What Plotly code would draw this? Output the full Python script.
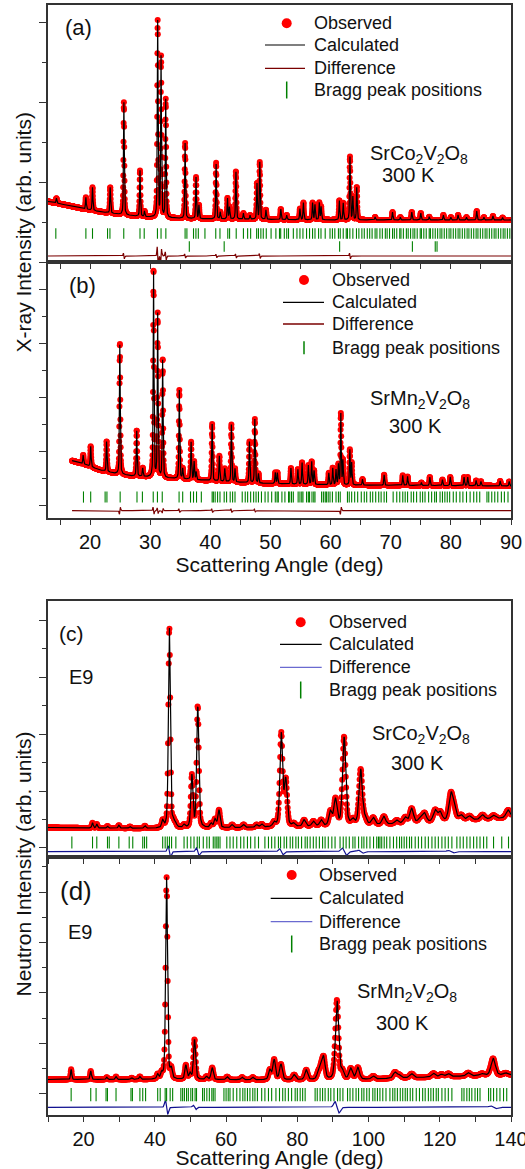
import numpy as np
import plotly.graph_objects as go

# ======================= DATA =======================
# ---- (a) SrCo2V2O8, X-ray ----
a_bg_x = [13, 16, 19, 22, 25, 28, 31, 35, 40, 50, 60, 70, 80, 90]
a_bg_y = [1512, 1425, 1325, 1250, 1188, 1138, 1113, 1088, 1075, 1063, 1050, 1050, 1050, 1050]
a_pk_x = [14.4, 19.3, 20.4, 23.35, 25.62, 28.3, 29.05, 31.24, 31.8, 32.58, 35.8, 37.62, 38.1,
          40.96, 41.65, 42.85, 43.18, 44.25, 45.5, 46.6, 47.75, 48.22, 49.25, 51.72, 52.7,
          54.9, 55.48, 57.0, 57.4, 58.12, 58.42, 61.45, 62.1, 63.22, 63.7, 64.35, 67.4,
          70.3, 71.6, 73.5, 75.0, 76.4, 78.75, 80.0, 81.2, 82.6, 84.3, 85.5, 87.0, 88.6]
a_pk_h = [125, 300, 575, 650, 2812, 1150, 137, 4900, 4000, 2950, 1887, 1037, 337,
          1375, 175, 525, 300, 1200, 150, 100, 900, 1425, 237, 262, 112,
          275, 425, 425, 375, 425, 325, 487, 425, 1575, 575, 825, 75,
          200, 70, 200, 175, 80, 125, 70, 125, 70, 225, 70, 100, 60]
a_mis_x = [25.62, 31.24, 31.8, 32.58, 35.8, 41.0, 44.25, 48.22, 63.22]
a_mis_a = [80, 260, -200, 120, 60, 50, 60, 70, 80]
a_bragg1 = [14.3, 19.3, 20.4, 22.9, 23.3, 25.6, 28.3, 29.0, 31.2, 31.8, 32.6, 35.8, 36.1, 37.2,
            37.6, 38.0, 39.1, 40.9, 41.6, 42.9, 43.2, 44.3, 45.5, 46.2, 46.7, 47.7, 48.0, 48.4,
            48.8, 49.3, 50.1, 50.9, 51.5, 51.7, 52.3, 52.7, 53.0, 53.8, 54.4, 54.9, 55.4, 56.0,
            56.5, 57.0, 57.4, 58.0, 58.4, 59.1, 59.9, 60.3, 60.7, 61.3, 61.6, 62.1, 62.6, 62.8,
            63.2, 63.7, 64.3, 64.7, 65.2, 65.6, 66.1, 66.5, 66.9, 67.4, 67.7, 68.2, 68.6, 69.1,
            69.4, 69.8, 70.3, 70.6, 71.0, 71.5, 71.7, 72.1, 72.6, 72.9, 73.3, 73.7, 74.0, 74.4,
            74.9, 75.1, 75.5, 75.9, 76.4, 76.6, 77.0, 77.4, 77.8, 78.2, 78.5, 78.9, 79.3, 79.7,
            80.0, 80.4, 80.8, 81.2, 81.5, 81.9, 82.3, 82.7, 83.0, 83.4, 83.8, 84.2, 84.5, 84.9,
            85.3, 85.7, 86.0, 86.4, 86.8, 87.2, 87.5, 87.9, 88.3, 88.7, 89.0, 89.4, 89.8]
a_bragg2 = [36.5, 42.3, 61.5, 73.6, 77.4, 77.7]

# ---- (b) SrMn2V2O8, X-ray ----
b_bg_x = [17.0, 19.4, 21.6, 24.0, 27.0, 32.5, 38.0, 43.5, 48.3, 60.0, 90.0]
b_bg_y = [1641, 1482, 1296, 1174, 1074, 1000, 926, 852, 804, 741, 704]
b_pk_x = [18.85, 20.1, 22.75, 24.95, 27.75, 28.75, 30.55, 31.24, 32.07, 34.84, 35.4, 36.8, 37.3,
          37.65, 40.3, 41.5, 42.4, 43.5, 44.1, 46.5, 47.4, 48.0, 50.8, 51.15, 53.4, 54.55, 55.25,
          56.3, 56.85, 57.25, 59.7, 60.35, 60.9, 61.3, 61.7, 62.05, 63.2, 63.5, 65.3, 68.9, 72.0,
          72.8, 75.1, 76.5, 78.6, 79.9, 82.2, 82.8, 84.2, 85.0, 88.2, 89.7]
b_pk_h = [333, 752, 1122, 4863, 1704, 315, 7700, 6050, 4400, 3285, 381, 1389, 667,
          296, 2100, 933, 481, 2122, 493, 1519, 2359, 344, 407, 407, 593, 556, 815,
          704, 852, 519, 444, 630, 556, 741, 2630, 900, 1296, 815, 222, 389, 370,
          333, 111, 315, 222, 322, 322, 322, 196, 167, 185, 167]
b_mis_x = [24.95, 30.55, 31.24, 32.07, 34.84, 40.3, 43.5, 47.4, 61.7]
b_mis_a = [-150, 150, 120, -100, 80, 80, 80, 60, -150]
b_bragg = [18.9, 20.1, 22.5, 22.8, 25.0, 27.8, 28.7, 30.5, 31.2, 32.0, 34.8, 35.4, 36.7, 37.2,
           37.7, 38.5, 40.3, 40.5, 40.8, 41.2, 41.6, 42.3, 42.7, 43.3, 43.7, 44.1, 45.3, 45.8,
           46.2, 46.7, 47.2, 47.6, 48.0, 48.5, 49.1, 49.6, 50.2, 50.8, 51.1, 51.3, 51.9, 52.4,
           53.0, 53.2, 53.5, 53.8, 54.6, 54.9, 55.2, 55.4, 56.0, 56.3, 56.5, 56.9, 57.2, 57.4,
           58.5, 58.8, 59.1, 59.3, 59.6, 59.9, 60.3, 60.9, 61.3, 61.6, 62.8, 63.1, 63.5, 64.0,
           64.5, 65.1, 65.6, 66.0, 66.6, 67.0, 67.5, 68.0, 68.4, 68.9, 69.3, 70.4, 71.0, 71.5,
           72.0, 72.4, 72.8, 73.4, 73.8, 74.3, 74.9, 75.3, 75.7, 76.3, 76.8, 77.3, 77.6, 78.2,
           78.6, 79.0, 79.4, 79.8, 80.4, 80.9, 81.5, 82.0, 82.6, 83.2, 83.8, 84.3, 84.8, 86.0,
           86.3, 86.8, 87.3, 87.8, 88.4, 88.9, 89.5]

# ---- (c) SrCo2V2O8, neutron (E9) ----
c_bg_x = [10, 20, 40, 60, 80, 100, 120, 140]
c_bg_y = [719, 702, 684, 702, 737, 789, 912, 1053]
c_pk_x = [22.5, 23.7, 26.7, 29.9, 33.0, 37.2, 42.2, 44.07, 45.2, 45.8, 48.2, 50.4, 52.05, 55.8,
          56.9, 58.0, 61.7, 64.9, 68.6, 70.0, 73.5, 75.5, 76.75, 79.0, 81.9, 84.5, 86.7, 89.3,
          90.7, 93.15, 95.6, 97.8, 99.0, 101.3, 104.3, 107.9, 110.3, 112.1, 114.5, 115.7,
          118.7, 120.1, 123.1, 124.0, 126.0, 128.3, 132.0, 135.1, 139.2]
c_pk_h = [186, 140, 70, 105, 60, 88, 239, 7070, 175, 120, 100, 1818, 4274, 150,
          291, 618, 105, 105, 90, 105, 140, 3253, 1600, 100, 228, 175, 210, 491,
          912, 3098, 175, 1947, 193, 246, 281, 123, 210, 509, 150, 316,
          397, 323, 888, 421, 175, 140, 158, 120, 281]
c_mis_x = [44.07, 52.05, 75.5, 93.15, 97.8, 123.1]
c_mis_a = [220, 150, 120, 150, 60, 50]
c_bragg = [16.7, 22.5, 23.7, 26.7, 27.2, 29.9, 32.8, 33.8, 36.6, 37.1, 37.7, 42.2, 42.9, 43.5,
           44.1, 44.7, 45.9, 48.2, 49.1, 50.1, 51.0, 51.9, 52.5, 53.6, 54.6, 55.3, 56.4, 56.9,
           57.4, 57.8, 58.3, 60.2, 61.1, 62.0, 63.0, 64.1, 65.0, 66.0, 66.9, 68.1, 69.1, 70.9,
           71.9, 72.8, 73.7, 74.7, 75.3, 76.3, 77.0, 78.0, 78.7, 79.6, 80.3, 81.2, 82.2, 82.8,
           83.6, 84.5, 85.3, 86.2, 87.1, 87.8, 88.7, 89.7, 90.6, 92.0, 92.9, 93.7, 94.6, 95.6,
           96.2, 97.2, 98.1, 98.7, 99.5, 100.4, 101.4, 102.3, 102.8, 103.2, 103.7, 104.4, 105.1,
           106.0, 107.0, 107.9, 108.7, 109.3, 110.0, 110.7, 111.5, 112.1, 113.1, 114.0, 114.9,
           115.9, 116.8, 117.8, 118.7, 119.6, 120.6, 121.5, 122.4, 123.4, 124.8, 125.7, 126.6,
           127.6, 128.5, 129.5, 130.4, 131.3, 132.3, 133.2, 135.1, 137.4, 139.3]

# ---- (d) SrMn2V2O8, neutron (E9) ----
d_bg_x = [10, 40, 70, 90, 100, 110, 120, 130, 140]
d_bg_y = [574, 574, 554, 554, 574, 634, 673, 713, 752]
d_pk_x = [16.5, 22.0, 26.5, 29.1, 33.5, 35.8, 40.8, 41.9, 43.3, 44.6, 48.7, 49.9, 51.15, 54.5,
          56.1, 60.3, 64.5, 67.5, 72.3, 73.5, 75.4, 79.1, 82.5, 85.9, 86.7, 87.4, 91.15, 92.6,
          95.0, 97.0, 101.3, 107.4, 108.6, 112.1, 118.2, 120.5, 122.4, 128.0, 131.8, 135.0, 138.5]
d_pk_h = [404, 337, 87, 111, 60, 111, 178, 198, 8000, 364, 562, 238, 1584, 120,
          475, 119, 100, 100, 384, 792, 614, 198, 388, 250, 400, 800, 3128, 317,
          424, 463, 119, 238, 120, 158, 146, 100, 119, 131, 79, 673, 80]
d_mis_x = [43.3, 51.15, 91.15, 135.0]
d_mis_a = [300, 100, 250, 60]
d_bragg = [16.5, 22.0, 23.5, 26.3, 26.7, 29.1, 33.3, 33.7, 35.8, 36.6, 37.4, 40.8, 41.5, 42.9,
           43.3, 44.3, 45.0, 47.3, 47.8, 48.3, 48.9, 49.4, 50.1, 50.6, 51.3, 51.7, 53.4, 53.9,
           54.6, 55.3, 56.0, 56.4, 56.9, 59.4, 60.0, 60.6, 61.1, 62.0, 63.0, 63.9, 64.7, 65.3,
           66.0, 66.7, 67.5, 68.1, 68.8, 70.0, 70.9, 71.9, 72.8, 74.0, 75.0, 75.9, 76.6, 77.5,
           78.4, 79.4, 80.0, 80.8, 81.5, 82.2, 85.0, 85.6, 86.4, 87.1, 87.8, 88.7, 89.4, 90.3,
           91.3, 92.0, 92.8, 94.1, 94.8, 95.6, 96.5, 97.2, 98.1, 98.7, 99.5, 100.2, 101.2, 101.8,
           102.5, 103.2, 104.0, 104.9, 106.0, 106.8, 107.4, 108.1, 108.9, 109.6, 110.3, 110.9,
           111.7, 112.4, 113.4, 114.3, 115.2, 115.9, 116.8, 117.5, 118.2, 119.0, 119.6, 120.6,
           121.5, 122.4, 123.4, 126.2, 126.8, 127.6, 128.3, 129.0, 129.9, 130.6, 131.3, 133.7,
           134.3, 135.1, 136.0, 136.9, 137.9, 138.8]

legend_labels = ["Observed", "Calculated", "Difference", "Bragg peak positions"]

# ======================= profile model =======================
def pv(x, p, w, eta):
    dx = (x - p) / (w / 2.0)
    return eta / (1.0 + dx ** 2) + (1.0 - eta) * np.exp(-np.log(2.0) * dx ** 2)


def calc_profile(x, bgx, bgy, pkx, pkh, wfun, eta):
    y = np.interp(x, bgx, bgy).astype(float)
    for p, h in zip(pkx, pkh):
        y = y + h * pv(x, p, wfun(p), eta)
    return y


def misfit(x, mx, ma, wfun, eta):
    out = np.zeros_like(x, dtype=float)
    for p, a in zip(mx, ma):
        w = wfun(p)
        d = 0.5 * w
        out = out + a * (pv(x, p - d, w, eta) - pv(x, p + d, w, eta))
    return out


def w_xray(p):
    return 0.15


def w_neut(p):
    return 0.25 + 0.0085 * p


RED = "#ff0000"
GREEN = "#008000"
XDIFF = "#7a0000"
NDIFF = "#101090"

panels = [
    dict(key="a", x=np.arange(13.0, 90.0001, 0.02), bgx=a_bg_x, bgy=a_bg_y, pkx=a_pk_x, pkh=a_pk_h,
         mx=a_mis_x, ma=a_mis_a, w=w_xray, eta=0.5, off=150, diffc=XDIFF, legc=XDIFF,
         bragg=[(a_bragg1, 712), (a_bragg2, 387)], bsize=7.5, xa="x", ya="y",
         leg=dict(tx=311.7, rows=[23.3, 45.0, 68.3, 90.0], l0=265, l1=305, dx=286.7, bar=17)),
    dict(key="b", x=np.arange(17.0, 90.0001, 0.02), bgx=b_bg_x, bgy=b_bg_y, pkx=b_pk_x, pkh=b_pk_h,
         mx=b_mis_x, ma=b_mis_a, w=w_xray, eta=0.5, off=-211, diffc=XDIFF, legc=XDIFF,
         bragg=[(b_bragg, 296)], bsize=8, xa="x2", ya="y2",
         leg=dict(tx=330.0, rows=[280.0, 302.3, 324.0, 347.7], l0=283, l1=324, dx=304, bar=13)),
    dict(key="c", x=np.arange(10.0, 140.0001, 0.1), bgx=c_bg_x, bgy=c_bg_y, pkx=c_pk_x, pkh=c_pk_h,
         mx=c_mis_x, ma=c_mis_a, w=w_neut, eta=0.4, off=-130, diffc=NDIFF, legc="#6a6ad0",
         bragg=[(c_bragg, 193)], bsize=8.5, xa="x3", ya="y3",
         leg=dict(tx=326.7, rows=[622.3, 644.3, 667.3, 690.0], l0=280, l1=321.7, dx=300.7, bar=17)),
    dict(key="d", x=np.arange(10.0, 140.0001, 0.1), bgx=d_bg_x, bgy=d_bg_y, pkx=d_pk_x, pkh=d_pk_h,
         mx=d_mis_x, ma=d_mis_a, w=w_neut, eta=0.4, off=-527, diffc=NDIFF, legc="#6a6ad0",
         bragg=[(d_bragg, -28)], bsize=9.5, xa="x4", ya="y4",
         leg=dict(tx=317.3, rows=[875.0, 898.3, 921.7, 944.0], l0=270.7, l1=312.3, dx=291.7, bar=17)),
]

fig = go.Figure()

for P in panels:
    x = P["x"]
    ycalc = calc_profile(x, P["bgx"], P["bgy"], P["pkx"], P["pkh"], P["w"], P["eta"])
    mis = misfit(x, P["mx"], P["ma"], P["w"], P["eta"])
    yobs = ycalc + mis
    ydiff = P["off"] + mis
    fig.add_trace(go.Scatter(x=x, y=yobs, mode="markers", xaxis=P["xa"], yaxis=P["ya"],
                             marker=dict(color=RED, size=6, line=dict(width=0)),
                             showlegend=False, hoverinfo="skip", name="Observed"))
    fig.add_trace(go.Scatter(x=x, y=ycalc, mode="lines", xaxis=P["xa"], yaxis=P["ya"],
                             line=dict(color="black", width=1.2), showlegend=False,
                             hoverinfo="skip", name="Calculated"))
    fig.add_trace(go.Scatter(x=x, y=ydiff, mode="lines", xaxis=P["xa"], yaxis=P["ya"],
                             line=dict(color=P["diffc"], width=1.2), showlegend=False,
                             hoverinfo="skip", name="Difference"))
    for pos, lev in P["bragg"]:
        fig.add_trace(go.Scatter(x=pos, y=[lev] * len(pos), mode="markers", xaxis=P["xa"], yaxis=P["ya"],
                                 marker=dict(symbol="line-ns", size=P["bsize"], color=GREEN,
                                             line=dict(color=GREEN, width=1.1)),
                                 showlegend=False, hoverinfo="skip", name="Bragg peak positions"))

# ======================= layout =======================
W, H = 525, 1169
L, R, T, B = 48, 511, 5, 1115


def xp(px):
    return (px - L) / (R - L)


def yp(py):
    return (B - py) / (B - T)


FONT = "Arial, Liberation Sans, sans-serif"
AX = dict(showline=True, linecolor="#333", linewidth=1.5, mirror=True, showgrid=False,
          zeroline=False, ticks="outside", tickcolor="#333", tickwidth=1.3, automargin=False)


def xaxis(rng, dt, mdt, labels, anchor, title=None, overflow="hide past div"):
    d = dict(AX, range=rng, anchor=anchor, domain=[0, 1], tickmode="linear", tick0=0, dtick=dt,
             ticklen=5, showticklabels=labels, ticklabeloverflow=overflow,
             tickfont=dict(size=20, family=FONT, color="#111"),
             minor=dict(tickmode="linear", dtick=mdt, ticks="outside", ticklen=5, tickcolor="#333",
                        tickwidth=1.3, showgrid=False))
    if title:
        d["title"] = dict(text=title, font=dict(size=21, family=FONT, color="#111"), standoff=6)
    return d


def yaxis(rng, dom, anchor):
    return dict(AX, range=rng, domain=dom, anchor=anchor, showticklabels=False, tickmode="linear",
                tick0=0, dtick=2000, ticklen=7,
                minor=dict(tickmode="linear", dtick=1000, ticks="outside", ticklen=4,
                           tickcolor="#333", tickwidth=1.3, showgrid=False))


fig.update_layout(
    width=W, height=H, margin=dict(l=L, r=W - R, t=T, b=H - B, autoexpand=False),
    paper_bgcolor="white", plot_bgcolor="white", showlegend=False,
    font=dict(family=FONT, color="#111"),
    xaxis=xaxis([13, 90], 10, 5, False, "y"),
    xaxis2=xaxis([13, 90], 10, 5, True, "y2", "Scattering Angle (deg)"),
    xaxis3=xaxis([10, 140], 20, 10, False, "y3"),
    xaxis4=xaxis([10, 140], 20, 10, True, "y4", "Scattering Angle (deg)", overflow="allow"),
    yaxis=yaxis([0, 6425], [yp(262), 1], "x"),
    yaxis2=yaxis([-481, 9000], [yp(518), yp(262)], "x2"),
    yaxis3=yaxis([-316, 8667], [yp(857), yp(601)], "x3"),
    yaxis4=yaxis([-832, 9386], [0, yp(857)], "x4"),
)

ann = []
shapes = []


def add_text(txt, px, py, size, angle=0, anchor="center"):
    ann.append(dict(text=txt, x=xp(px), y=yp(py), xref="paper", yref="paper", showarrow=False,
                    xanchor=anchor, yanchor="middle", textangle=angle,
                    font=dict(size=size, family=FONT, color="#111")))


# legends (drawn as paper-space keys)
for P in panels:
    g = P["leg"]
    r = g["rows"]
    for lab, yy in zip(legend_labels, r):
        add_text(lab, g["tx"], yy, 18, anchor="left")
    shapes.append(dict(type="circle", xref="paper", yref="paper", fillcolor=RED, line=dict(width=0),
                       x0=xp(g["dx"] - 5), x1=xp(g["dx"] + 5), y0=yp(r[0] + 5), y1=yp(r[0] - 5)))
    shapes.append(dict(type="line", xref="paper", yref="paper", line=dict(color="black", width=1.2),
                       x0=xp(g["l0"]), x1=xp(g["l1"]), y0=yp(r[1]), y1=yp(r[1])))
    shapes.append(dict(type="line", xref="paper", yref="paper", line=dict(color=P["legc"], width=1.3),
                       x0=xp(g["l0"]), x1=xp(g["l1"]), y0=yp(r[2]), y1=yp(r[2])))
    shapes.append(dict(type="line", xref="paper", yref="paper", line=dict(color=GREEN, width=1.5),
                       x0=xp(g["dx"]), x1=xp(g["dx"]), y0=yp(r[3] + g["bar"] / 2), y1=yp(r[3] - g["bar"] / 2)))

add_text("(a)", 78, 27.5, 22)
add_text("(b)", 82, 285, 22)
add_text("(c)", 71, 633, 21)
add_text("E9", 81, 677, 20)
add_text("(d)", 76, 891.5, 26)
add_text("E9", 80, 932, 20)
add_text("SrCo<sub>2</sub>V<sub>2</sub>O<sub>8</sub>", 419, 155, 20)
add_text("300 K", 408, 175, 20)
add_text("SrMn<sub>2</sub>V<sub>2</sub>O<sub>8</sub>", 420, 399, 20)
add_text("300 K", 415, 426, 20)
add_text("SrCo<sub>2</sub>V<sub>2</sub>O<sub>8</sub>", 421, 734, 20)
add_text("300 K", 417, 763, 20)
add_text("SrMn<sub>2</sub>V<sub>2</sub>O<sub>8</sub>", 407, 992, 20)
add_text("300 K", 402, 1023, 20)
add_text("X-ray Intensity (arb. units)", 23, 232.5, 21, -90)
add_text("Neutron Intensity (arb. units)", 23, 864.5, 21, -90)
fig.update_layout(annotations=ann, shapes=shapes)

fig.write_html("out.html")
